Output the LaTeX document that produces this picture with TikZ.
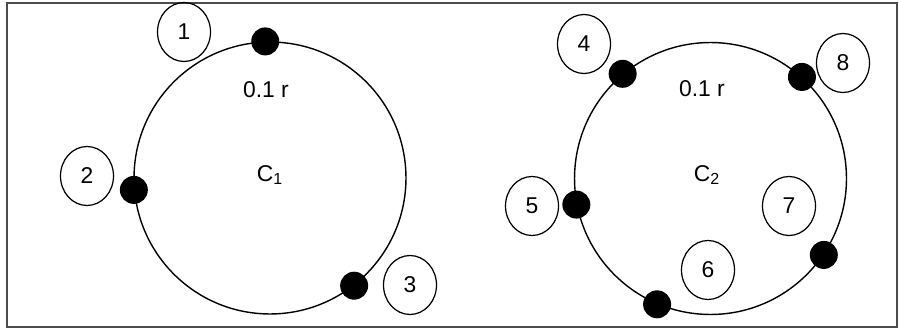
\documentclass[tikz,border=0pt]{standalone}
\usepackage{fontspec}
\setmainfont{Liberation Sans}
\usetikzlibrary{shapes.geometric}

\begin{document}
\begin{tikzpicture}[x=0.02cm,y=-0.02cm,
  ring/.style={circle,draw,line width=0.8pt,minimum size=5.44cm,inner sep=0pt},
  site/.style={circle,fill=black,minimum size=0.56cm,inner sep=0pt},
  tag/.style={ellipse,draw,line width=0.7pt,minimum width=1.06cm,minimum height=1.18cm,inner sep=0pt,font=\fontsize{13}{15}\selectfont},
  txt/.style={inner sep=1pt,font=\fontsize{13}{15}\selectfont}]
  \useasboundingbox (0,0) rectangle (899,331);
  \draw[black!70,line width=1.1pt] (7,3) rectangle (897,327);
  % left cluster
  \node[ring] (c1) at (270,178) {};
  \node[txt] (r1) at (266,90) {0.1 r};
  \node[txt] (n1) at (270,175) {C\textsubscript{1}};
  \node[site] (s1) at (c1.92) {};
  \node[site] (s2) at (c1.185.6) {};
  \node[site] (s3) at (c1.-52.3) {};
  \node[tag] (t1) at (184,32) {1};
  \node[tag] (t2) at (87,176) {2};
  \node[tag] (t3) at (410,285) {3};
  % right cluster
  \node[ring] (c2) at (710.5,178.5) {};
  \node[txt] (r2) at (702,89) {0.1 r};
  \node[txt] (n2) at (707,175) {C\textsubscript{2}};
  \node[site] (s4) at (c2.130.8) {};
  \node[site] (s5) at (c2.191.1) {};
  \node[site] (s6) at (c2.247) {};
  \node[site] (s7) at (c2.-34.9) {};
  \node[site] (s8) at (c2.48.2) {};
  \node[tag] (t4) at (584,44) {4};
  \node[tag] (t5) at (532,206) {5};
  \node[tag] (t6) at (708,270) {6};
  \node[tag] (t7) at (789,206) {7};
  \node[tag] (t8) at (843,63) {8};
\end{tikzpicture}
\end{document}
